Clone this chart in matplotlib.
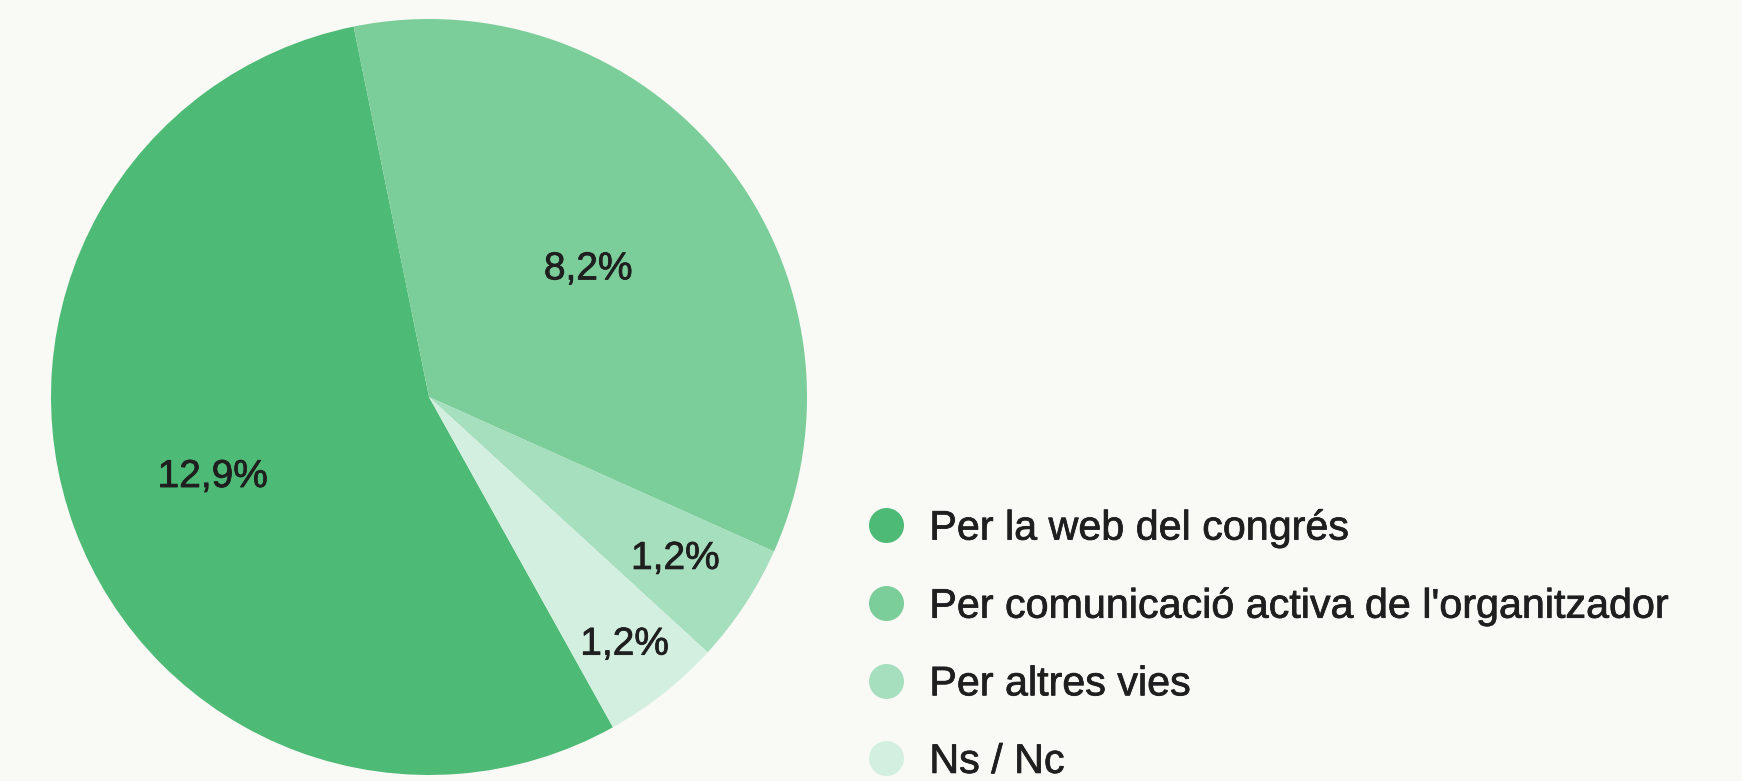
import matplotlib
matplotlib.use("Agg")
import matplotlib.pyplot as plt
import matplotlib.patheffects as pe
from matplotlib.lines import Line2D
import numpy as np

categories = [
    "Per la web del congrés",
    "Per comunicació activa de l'organitzador",
    "Per altres vies",
    "Ns / Nc",
]
values = [12.9, 8.2, 1.2, 1.2]
value_labels = ["12,9%", "8,2%", "1,2%", "1,2%"]
colors = ["#4dbb76", "#7bcd9a", "#a6dfbd", "#d3efdf"]
label_radius = [0.61, 0.54, 0.78, 0.835]

BG = "#f9f9f6"
TXT = "#1f1f1f"
plt.rcParams["font.family"] = ["Liberation Sans", "DejaVu Sans"]
heavier = [pe.withStroke(linewidth=0.55, foreground=TXT)]

W, H = 1742, 781
fig = plt.figure(figsize=(W / 100, H / 100), dpi=100, facecolor=BG)

cx, cy, r = 429, 397, 378
ax = fig.add_axes([(cx - r) / W, (H - cy - r) / H, 2 * r / W, 2 * r / H])
ax.set_facecolor(BG)

total = sum(values)
start = 101.5 + 360 * values[0] / total
wedges, _ = ax.pie(values, colors=colors, startangle=start, counterclock=False,
                   radius=1, wedgeprops=dict(linewidth=0))
ax.set_xlim(-1, 1)
ax.set_ylim(-1, 1)
ax.set_aspect("equal")
ax.axis("off")

for w, lab, lr in zip(wedges, value_labels, label_radius):
    mid = np.deg2rad((w.theta1 + w.theta2) / 2)
    ax.text(lr * np.cos(mid), lr * np.sin(mid), lab, ha="center", va="center",
            fontsize=28, color=TXT, path_effects=heavier)

handles = [Line2D([], [], marker="o", linestyle="", markersize=25.2,
                  markerfacecolor=c, markeredgewidth=0) for c in colors]
fs = 29.7
leg = fig.legend(handles, categories, loc="center left",
                 bbox_to_anchor=(865 / W, 1 - 645 / H), frameon=False,
                 fontsize=fs, handlelength=1.0, handletextpad=0.56,
                 labelspacing=0.96, borderpad=0, borderaxespad=0)
for t in leg.get_texts():
    t.set_color(TXT)
    t.set_path_effects(heavier)

fig.savefig("out.png", dpi=100, facecolor=BG)
